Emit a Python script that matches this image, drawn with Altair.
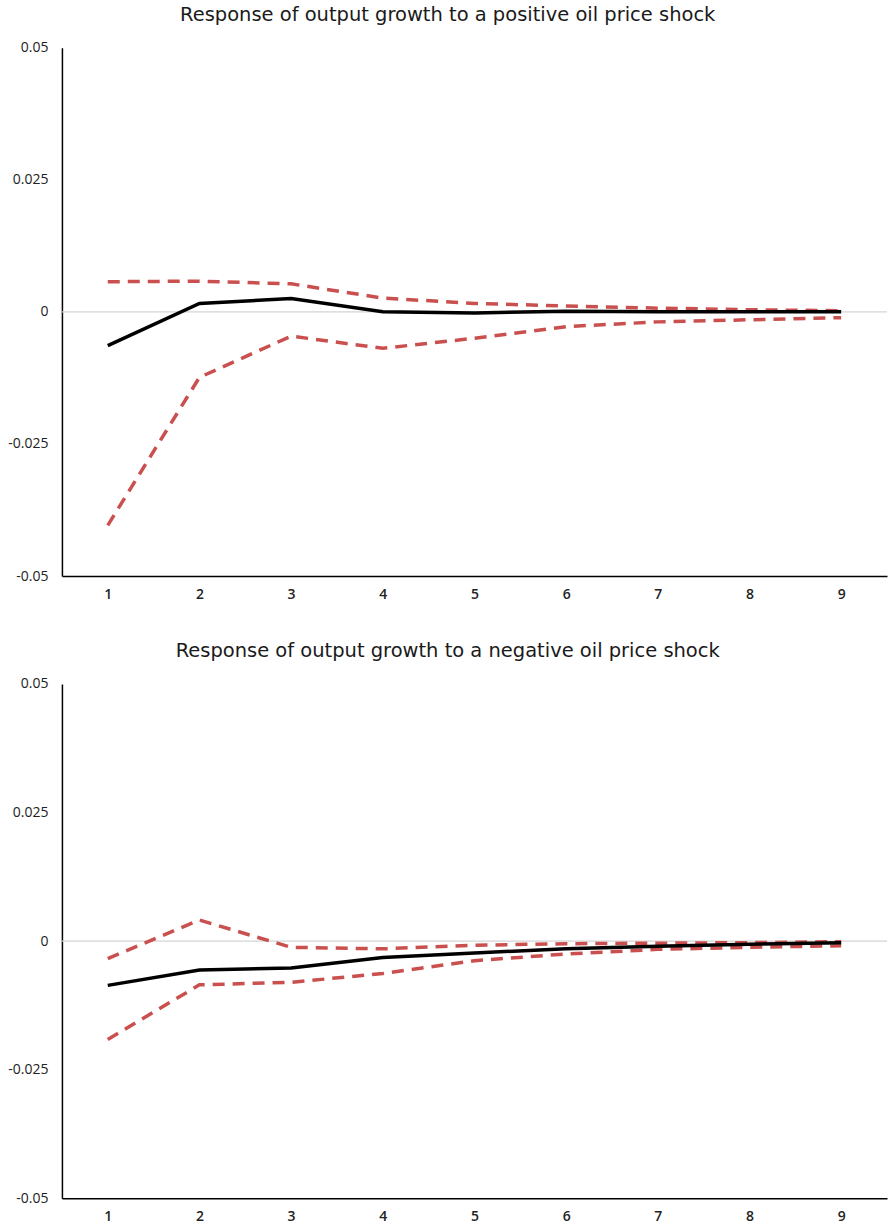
import altair as alt
import pandas as pd

periods = [1, 2, 3, 4, 5, 6, 7, 8, 9]

# Positive oil price shock
pos_resp = [-0.0064, 0.0016, 0.0025, 0.0000, -0.0002, 0.0001, 0.0000, 0.0000, 0.0000]
pos_upper = [0.0057, 0.0058, 0.0053, 0.0026, 0.0016, 0.0011, 0.0007, 0.0004, 0.0002]
pos_lower = [-0.0404, -0.0124, -0.0046, -0.0069, -0.0050, -0.0028, -0.0019, -0.0015, -0.0011]

# Negative oil price shock
neg_resp = [-0.0086, -0.0056, -0.0052, -0.0032, -0.0023, -0.0015, -0.0010, -0.0006, -0.0003]
neg_upper = [-0.0034, 0.0041, -0.0012, -0.0015, -0.0008, -0.0005, -0.0004, -0.0003, -0.0001]
neg_lower = [-0.0191, -0.0085, -0.0080, -0.0063, -0.0038, -0.0025, -0.0016, -0.0012, -0.0009]

titles = [
    "Response of output growth to a positive oil price shock",
    "Response of output growth to a negative oil price shock",
]

y_ticks = [-0.05, -0.025, 0, 0.025, 0.05]
RED = "#C9504E"
FONT = "Open Sans"
TFONT = "DejaVu Sans"


def panel(resp, upper, lower, title, height):
    df_resp = pd.DataFrame({"period": periods, "value": resp})
    df_band = pd.concat([
        pd.DataFrame({"period": periods, "value": upper, "bound": "upper"}),
        pd.DataFrame({"period": periods, "value": lower, "bound": "lower"}),
    ])
    x = alt.X("period:Q",
              scale=alt.Scale(domain=[0.5, 9.5], nice=False, zero=False),
              axis=alt.Axis(values=periods, ticks=False, grid=False, title=None,
                            domainColor="#000000", domainWidth=1.5,
                            labelFontSize=14, labelFontWeight=600, labelColor="#222222",
                            labelPadding=11, labelFont=FONT, format="d"))
    y = alt.Y("value:Q",
              scale=alt.Scale(domain=[-0.05, 0.05], nice=False),
              axis=alt.Axis(values=y_ticks, ticks=False, grid=False, title=None,
                            domainColor="#000000", domainWidth=1.5,
                            labelFontSize=14, labelColor="#222222", labelFont=FONT,
                            labelPadding=14, labelExpr="'' + datum.value"))
    zero = alt.Chart(pd.DataFrame({"z": [0]})).mark_rule(color="#d4d4d4", strokeWidth=1.2).encode(
        y=alt.Y("z:Q", scale=alt.Scale(domain=[-0.05, 0.05], nice=False))
    )
    band = alt.Chart(df_band).mark_line(color=RED, strokeWidth=3.5, strokeDash=[12, 8]).encode(
        x=x, y=y, detail="bound:N"
    )
    line = alt.Chart(df_resp).mark_line(color="#000000", strokeWidth=3.5).encode(x=x, y=y)
    return alt.layer(zero, band, line).properties(
        width=826, height=height,
        title=alt.TitleParams(title, fontSize=19.5, font=TFONT, fontWeight="normal", color="#1a1a1a",
                              anchor="middle", frame="bounds", offset=15.5),
    )


top = panel(pos_resp, pos_upper, pos_lower, titles[0], 529)
bottom = panel(neg_resp, neg_upper, neg_lower, titles[1], 515)

chart = alt.vconcat(top, bottom, spacing=40).properties(
    padding={"left": 7, "right": 2, "top": 4, "bottom": 0}
).configure_view(stroke=None)

chart.save("out.html", embed_options={"renderer": "svg", "actions": False})
